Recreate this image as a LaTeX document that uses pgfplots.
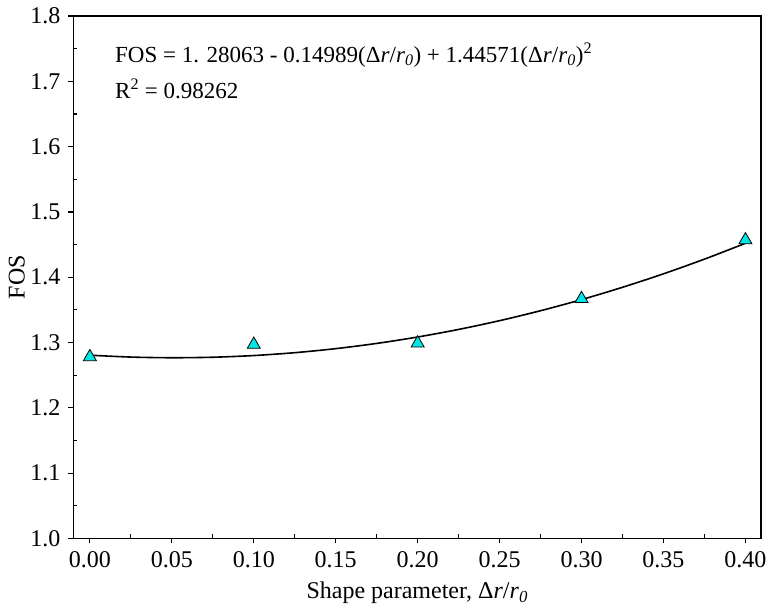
\documentclass[border=0pt]{standalone}
\usepackage{pgfplots}
\pgfplotsset{compat=1.18}
\usepackage{fontspec}
\setmainfont{Liberation Serif}
\definecolor{mkcyan}{RGB}{0,230,230}
\newcommand{\fs}{\fontsize{24bp}{28bp}\selectfont}
\newcommand{\fe}{\fontsize{23bp}{27bp}\selectfont}
\begin{document}
\fs
\begin{tikzpicture}
\begin{axis}[
  scale only axis,
  width=687.5bp, height=522.5bp,
  xmin=-0.01, xmax=0.4095,
  ymin=1.0, ymax=1.8,
  xtick={0,0.05,...,0.4},
  ytick={1.0,1.1,...,1.8},
  minor tick num=1,
  tick pos=left,
  tick align=outside,
  major tick length=5bp,
  minor tick length=-4bp,
  axis line style={line width=1.6bp},
  every tick/.style={line width=1.2bp, black},
  /pgf/number format/assume math mode=true,
  xticklabel style={/pgf/number format/fixed, /pgf/number format/fixed zerofill, /pgf/number format/precision=2},
  yticklabel style={/pgf/number format/fixed, /pgf/number format/fixed zerofill, /pgf/number format/precision=1},
  tick label style={font=\fs},
  label style={font=\fs},
  xlabel={Shape parameter, Δ\textit{r}/\textit{r}\textsubscript{\textit{0}}},
  xlabel style={at={(axis description cs:0.5,0)}, anchor=base, yshift=-60bp},
  ylabel={FOS},
  ylabel style={at={(axis description cs:-0.0826,0.5)}, anchor=center},
  clip=false,
]
\addplot[black, line width=1.6bp, smooth, no marks] coordinates {
(0,1.28063) (0.025,1.277786) (0.05,1.27675) (0.075,1.27752) (0.1,1.280098)
(0.125,1.284483) (0.15,1.290675) (0.175,1.298674) (0.2,1.308481) (0.225,1.320094)
(0.25,1.333514) (0.275,1.348742) (0.3,1.365777) (0.325,1.384619) (0.35,1.405268)
(0.375,1.427724) (0.4,1.451988)
};
\addplot[only marks, mark=triangle*, mark size=7.5bp, mark options={fill=mkcyan, draw=black, line width=0.8bp}] coordinates {
(0,1.278) (0.1,1.297) (0.2,1.299) (0.3,1.367) (0.4,1.457)
};
\node[anchor=base west, inner sep=0pt, font=\fe] at (axis cs:0.0153,1.7295) {FOS = 1. 28063 - 0.14989(Δ\textit{r}/\textit{r}\textsubscript{\textit{0}}) + 1.44571(Δ\textit{r}/\textit{r}\textsubscript{\textit{0}})\textsuperscript{2}};
\node[anchor=base west, inner sep=0pt, font=\fe] at (axis cs:0.0153,1.674) {R\textsuperscript{2} = 0.98262};
\end{axis}
\pgfresetboundingbox
\path ([shift={(-73.5bp,-69.5bp)}]current axis.south west) rectangle ([shift={(8bp,16bp)}]current axis.north east);
\end{tikzpicture}
\end{document}
